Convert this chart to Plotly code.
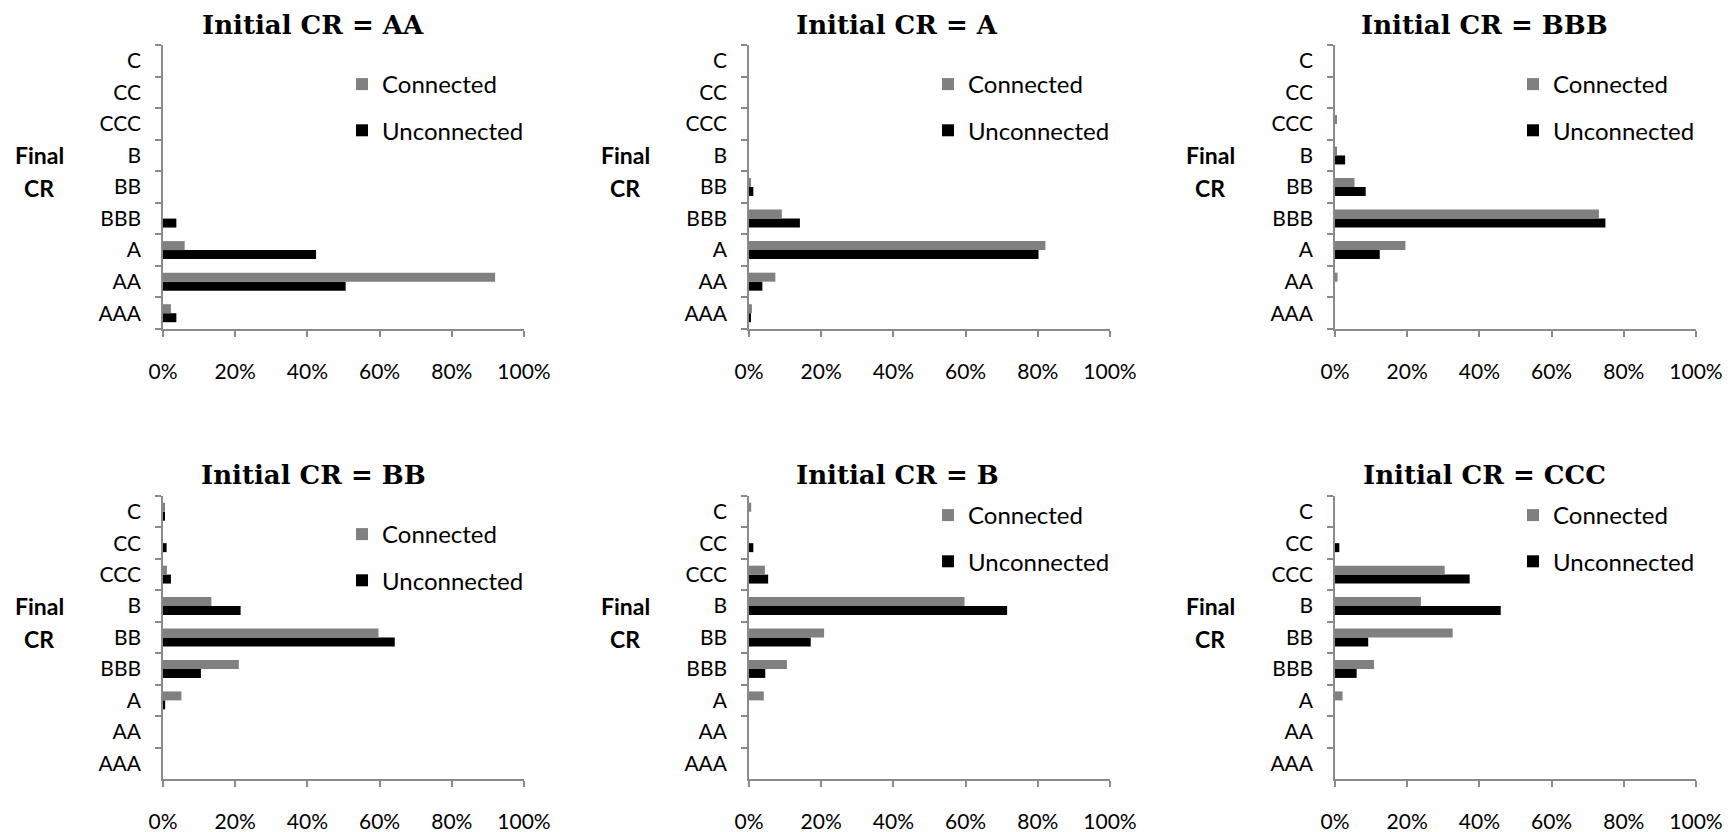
import plotly.graph_objects as go

W, H = 1728, 832

# ---------------- data ----------------
final_cr = ["AAA", "AA", "A", "BBB", "BB", "B", "CCC", "CC", "C"]
initial_cr = ["AA", "A", "BBB", "BB", "B", "CCC"]

connected_AA = [0.022, 0.920, 0.060, 0.0, 0.0, 0.0, 0.0, 0.0, 0.0]
unconnected_AA = [0.037, 0.506, 0.424, 0.037, 0.0, 0.0, 0.0, 0.0, 0.0]

connected_A = [0.008, 0.073, 0.821, 0.091, 0.003, 0.0, 0.0, 0.0, 0.0]
unconnected_A = [0.004, 0.037, 0.802, 0.141, 0.012, 0.0, 0.0, 0.0, 0.0]

connected_BBB = [0.0, 0.007, 0.195, 0.731, 0.054, 0.003, 0.004, 0.0, 0.0]
unconnected_BBB = [0.0, 0.0, 0.124, 0.749, 0.085, 0.028, 0.0, 0.0, 0.0]

connected_BB = [0.0, 0.0, 0.051, 0.210, 0.597, 0.134, 0.011, 0.0, 0.004]
unconnected_BB = [0.0, 0.0, 0.006, 0.105, 0.642, 0.215, 0.022, 0.010, 0.003]

connected_B = [0.0, 0.0, 0.041, 0.105, 0.208, 0.597, 0.044, 0.0, 0.006]
unconnected_B = [0.0, 0.0, 0.0, 0.045, 0.171, 0.715, 0.053, 0.012, 0.0]

connected_CCC = [0.0, 0.0, 0.021, 0.108, 0.326, 0.238, 0.304, 0.0, 0.0]
unconnected_CCC = [0.0, 0.0, 0.0, 0.060, 0.092, 0.459, 0.373, 0.012, 0.0]

connected = [connected_AA, connected_A, connected_BBB, connected_BB, connected_B, connected_CCC]
unconnected = [unconnected_AA, unconnected_A, unconnected_BBB, unconnected_BB, unconnected_B, unconnected_CCC]

x_ticks = [0, 0.2, 0.4, 0.6, 0.8, 1.0]
x_ticklabels = ["0%", "20%", "40%", "60%", "80%", "100%"]

# ---------------- layout helpers (pixels -> paper) ----------------
def px(x):
    return x / W

def py(y):
    return 1 - y / H

col_left = [163, 749, 1335]
plot_w = 361
rows = [(45, 329), (496, 779)]
title_x = [313, 897, 1484]
title_y = [25, 475]
final_x = [39, 625, 1210]
final_y = [(155, 188), (606, 639)]
legend_pos = [(342, 62), (928, 62), (1513, 62), (342, 512), (928, 493), (1513, 493)]

GRAY = "#808080"
AXIS = "#8a8a8a"
LABEL_FONT = "Lato"

fig = go.Figure()
annotations = []
layout = {}

for i, init in enumerate(initial_cr):
    r, c = divmod(i, 3)
    n = i + 1
    xa = "x" if n == 1 else f"x{n}"
    ya = "y" if n == 1 else f"y{n}"
    lg = "legend" if n == 1 else f"legend{n}"

    fig.add_trace(go.Bar(
        y=final_cr, x=unconnected[i], orientation="h", name="Unconnected",
        marker=dict(color="#000000", line=dict(width=0)),
        xaxis=xa, yaxis=ya, legend=lg, legendrank=2, legendgroup=f"u{n}",
    ))
    fig.add_trace(go.Bar(
        y=final_cr, x=connected[i], orientation="h", name="Connected",
        marker=dict(color=GRAY, line=dict(width=0)),
        xaxis=xa, yaxis=ya, legend=lg, legendrank=1, legendgroup=f"c{n}",
    ))

    x0 = col_left[c]
    ytop, ybot = rows[r]
    xkey = "xaxis" if n == 1 else f"xaxis{n}"
    ykey = "yaxis" if n == 1 else f"yaxis{n}"
    layout[xkey] = dict(
        domain=[px(x0), px(x0 + plot_w)], anchor=ya, range=[0, 1],
        tickvals=x_ticks, ticktext=x_ticklabels, showgrid=False, zeroline=False,
        showline=True, linecolor=AXIS, linewidth=1.5,
        ticks="outside", ticklen=6, tickcolor=AXIS, tickwidth=1.5,
        ticklabelstandoff=17, automargin=False,
        tickfont=dict(family=LABEL_FONT, size=21, color="#000000"), fixedrange=True,
    )
    layout[ykey] = dict(
        domain=[py(ybot), py(ytop)], anchor=xa, type="category",
        categoryorder="array", categoryarray=final_cr,
        showgrid=False, zeroline=False, showline=True, linecolor=AXIS, linewidth=1.5,
        ticks="outside", ticklen=6, tickcolor=AXIS, tickwidth=1.5, tickson="boundaries",
        ticklabelstandoff=16, automargin=False,
        tickfont=dict(family=LABEL_FONT, size=21, color="#000000"), fixedrange=True,
    )
    lx, ly = legend_pos[i]
    layout[lg] = dict(
        x=px(lx), y=py(ly), xanchor="left", yanchor="top",
        font=dict(family=LABEL_FONT, size=24, color="#000000"),
        bgcolor="rgba(0,0,0,0)", borderwidth=0, tracegroupgap=12,
        itemwidth=30, itemclick=False, itemdoubleclick=False,
    )
    annotations.append(dict(
        text=f"<b>Initial CR = {init}</b>", x=px(title_x[c]), y=py(title_y[r]),
        xref="paper", yref="paper", xanchor="center", yanchor="middle", showarrow=False,
        font=dict(family="DejaVu Serif", size=26, color="#000000"),
    ))
    for word, yy in zip(["Final", "CR"], final_y[r]):
        annotations.append(dict(
            text=f"<b>{word}</b>", x=px(final_x[c]), y=py(yy),
            xref="paper", yref="paper", xanchor="center", yanchor="middle", showarrow=False,
            font=dict(family=LABEL_FONT, size=23, color="#000000"),
        ))

fig.update_layout(
    width=W, height=H, margin=dict(l=0, r=0, t=0, b=0, pad=0, autoexpand=False),
    paper_bgcolor="#ffffff", plot_bgcolor="#ffffff",
    barmode="group", bargap=0.43, bargroupgap=0.0,
    showlegend=True, annotations=annotations, **layout,
)

fig.write_html(
    "out.html",
    config={"displayModeBar": False},
    post_script="document.body.style.margin='0px';document.body.style.overflow='hidden';",
)
